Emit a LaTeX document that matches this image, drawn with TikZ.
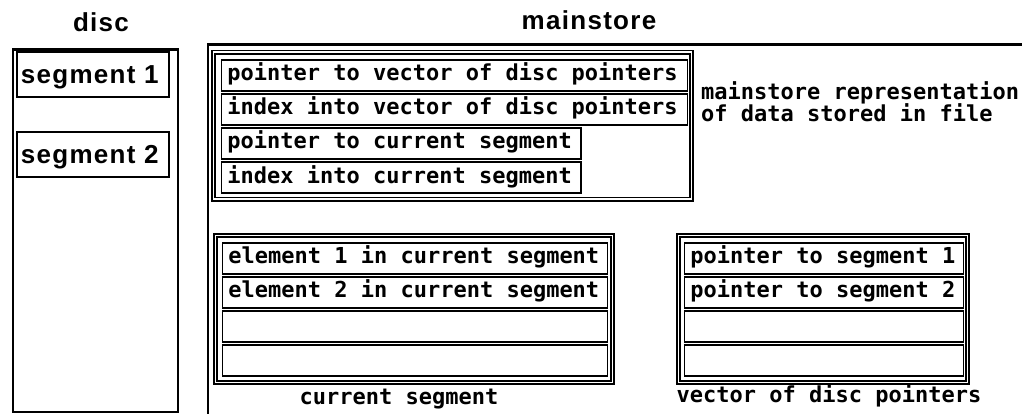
\documentclass[tikz,border=0pt]{standalone}
\usepackage{fontspec}
\newfontfamily\plotfont{DejaVu Sans Mono}
\newfontfamily\headfont[LetterSpace=5]{Liberation Sans}
\tikzset{
  % cell of a record: fixed width, text set flush left
  cell/.style={draw, rectangle, line width=1.8pt, anchor=north west,
    minimum width=#1, minimum height=31pt, inner xsep=6pt, inner ysep=0pt,
    text height=15pt, text depth=4pt,
    font=\plotfont\bfseries\fontsize{22}{25}\selectfont,
    execute at begin node={\hbox to \dimexpr#1-12pt\relax\bgroup},
    execute at end node={\hfil\egroup}},
  % segment block on the disc
  segbox/.style={draw, rectangle, line width=1.8pt, anchor=north west,
    minimum width=#1, minimum height=45pt, inner xsep=4pt, inner ysep=0pt,
    text height=18pt, text depth=0pt,
    font=\headfont\bfseries\fontsize{26}{30}\selectfont,
    execute at begin node={\hbox to \dimexpr#1-8pt\relax\bgroup},
    execute at end node={\hfil\egroup}},
  % double-ruled frame round a group of cells
  dframe/.style={draw, rectangle, double, double distance=1.6pt, line width=1.6pt,
    anchor=north west, inner sep=0pt},
  plain/.style={draw, rectangle, line width=2.4pt, anchor=north west, inner sep=0pt},
  heading/.style={anchor=base, inner sep=0pt,
    font=\headfont\bfseries\fontsize{26}{30}\selectfont},
  caption/.style={inner sep=0pt,
    font=\plotfont\bfseries\fontsize{22}{25}\selectfont},
}
\begin{document}
\begin{tikzpicture}[x=1pt, y=-1pt]
\useasboundingbox (0,0) rectangle (1022,414);

% headings
\node[heading] (discT) at (101,32) {disc};
\node[heading] (mainT) at (589,30) {mainstore};

% disc
\node[plain, minimum width=165pt, minimum height=362pt] (disc) at (11.5,48.5) {};
\node[segbox=152pt] (seg1) at (16,51.5) {segment 1};
\node[segbox=152pt] (seg2) at (16,131) {segment 2};

% mainstore area: open frame along the top and left
\coordinate (msTR) at (1022,44.5);
\coordinate (msTL) at (208,44.5);
\coordinate (msBL) at (208,414);
\draw[line width=2.4pt] (msTR) -- (msTL) -- (msBL);

% file representation
\node[dframe, minimum width=478pt, minimum height=147pt] (fileRep) at (212.5,51.5) {};
\node[cell=466pt] (vecPtr) at (220.5,59) {pointer to vector of disc pointers};
\node[cell=466pt] (vecIdx) at (220.5,93) {index into vector of disc pointers};
\node[cell=359.5pt] (segPtr) at (220.5,127) {pointer to current segment};
\node[cell=359.5pt] (segIdx) at (220.5,161.5) {index into current segment};
\node[caption, anchor=base west] (rep1) at (701,100) {mainstore representation};
\node[caption, anchor=base west] (rep2) at (701,122) {of data stored in file};

% current segment
\node[dframe, minimum width=397pt, minimum height=147pt] (curSeg) at (214.5,234.5) {};
\node[cell=385pt] (el1) at (221.5,242) {element 1 in current segment};
\node[cell=385pt] (el2) at (221.5,276) {element 2 in current segment};
\node[cell=385pt] (el3) at (221.5,310) {};
\node[cell=385pt] (el4) at (221.5,344) {};
\node[caption, anchor=base] (curSegT) at (399,404) {current segment};

% vector of disc pointers
\node[dframe, minimum width=289pt, minimum height=147pt] (vecDisc) at (677.5,234.5) {};
\node[cell=279pt] (dp1) at (683.5,242) {pointer to segment 1};
\node[cell=279pt] (dp2) at (683.5,276) {pointer to segment 2};
\node[cell=279pt] (dp3) at (683.5,310) {};
\node[cell=279pt] (dp4) at (683.5,344) {};
\node[caption, anchor=base] (vecDiscT) at (829,402) {vector of disc pointers};
\end{tikzpicture}
\end{document}
